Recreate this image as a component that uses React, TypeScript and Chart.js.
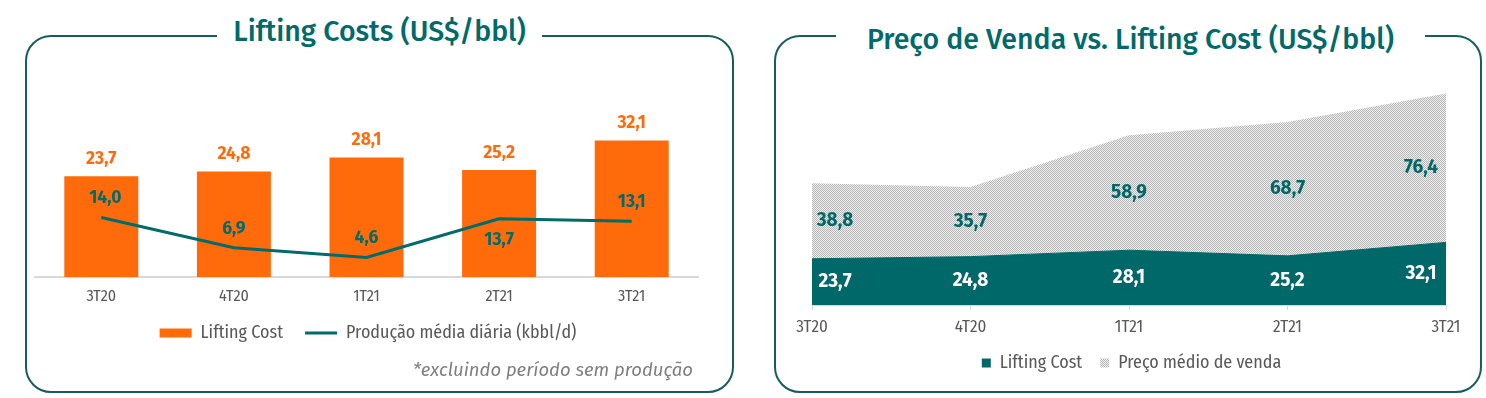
import React, { useEffect, useRef } from "react";
import { Chart, registerables } from "chart.js";

Chart.register(...registerables);

// ---- data ----
const categories = ["3T20", "4T20", "1T21", "2T21", "3T21"];
const liftingCost = [23.7, 24.8, 28.1, 25.2, 32.1];
const production = [14.0, 6.9, 4.6, 13.7, 13.1];
const salePrice = [38.8, 35.7, 58.9, 68.7, 76.4];

const leftTitle = "Lifting Costs (US$/bbl)";
const rightTitle = "Preço de Venda vs. Lifting Cost (US$/bbl)";
const liftLabel = "Lifting Cost";
const prodLabel = "Produção média diária (kbbl/d)";
const priceLabel = "Preço médio de venda";
const footnote = "*excluindo período sem produção";

// ---- style ----
const FONT = "'Fira Sans Condensed', 'Roboto Condensed', 'Liberation Sans', sans-serif";
const FONT_W = "'Fira Sans', 'Noto Sans', 'Liberation Sans', sans-serif";
const ORANGE = "#FF6B0B";
const TEAL = "#006868";
const TEAL_LINE = "#006B6B";
const TITLE = "#006A6B";
const BORDER = "#175D5D";
const GRAY_TXT = "#595959";
const AXIS = "#D9D9D9";

const fmt = (v: number) => v.toFixed(1).replace(".", ",");

const spacer = (position: string, width: number, extra: any = {}) => ({
  type: "linear",
  position,
  display: true,
  grid: { display: false, drawTicks: false },
  border: { display: false },
  ticks: { display: false },
  afterFit: (s: any) => {
    s.width = width;
  },
  ...extra,
});

function makePattern(ctx: CanvasRenderingContext2D) {
  const c = document.createElement("canvas");
  c.width = 2;
  c.height = 2;
  const p = c.getContext("2d")!;
  p.fillStyle = "#f0f0f0";
  p.fillRect(0, 0, 2, 2);
  p.fillStyle = "#b5b5b5";
  p.fillRect(0, 0, 1, 1);
  p.fillRect(1, 1, 1, 1);
  return ctx.createPattern(c, "repeat")!;
}

const leftLabelsPlugin = {
  id: "leftLabels",
  afterDatasetsDraw(chart: any) {
    const ctx = chart.ctx;
    const bars = chart.getDatasetMeta(0).data;
    const pts = chart.getDatasetMeta(1).data;
    const below = [false, false, false, true, false];
    ctx.save();
    ctx.textAlign = "center";
    ctx.textBaseline = "middle";
    ctx.font = `bold 17.5px ${FONT_W}`;
    ctx.fillStyle = ORANGE;
    bars.forEach((el: any, i: number) => ctx.fillText(fmt(liftingCost[i]), el.x, el.y - 17));
    ctx.fillStyle = TEAL_LINE;
    pts.forEach((el: any, i: number) =>
      ctx.fillText(fmt(production[i]), el.x + (i === 0 ? 4 : 0), el.y + (below[i] ? 21 : -19))
    );
    ctx.restore();
  },
};

const rightLabelsPlugin = {
  id: "rightLabels",
  afterDatasetsDraw(chart: any) {
    const ctx = chart.ctx;
    const lift = chart.getDatasetMeta(0).data;
    const price = chart.getDatasetMeta(1).data;
    const y0 = chart.scales.y.getPixelForValue(0);
    const n = categories.length;
    ctx.save();
    ctx.textAlign = "center";
    ctx.textBaseline = "middle";
    ctx.font = `bold 19px ${FONT_W}`;
    for (let i = 0; i < n; i++) {
      const dx = i === 0 ? 23 : i === n - 1 ? -25 : 0;
      const x = lift[i].x + dx;
      ctx.fillStyle = "#ffffff";
      ctx.fillText(fmt(liftingCost[i]), x, (y0 + lift[i].y) / 2);
      ctx.fillStyle = TEAL;
      ctx.fillText(fmt(salePrice[i]), x, (lift[i].y + price[i].y) / 2);
    }
    ctx.restore();
  },
};

export default function App() {
  const leftRef = useRef<HTMLCanvasElement>(null);
  const rightRef = useRef<HTMLCanvasElement>(null);

  useEffect(() => {
    const left = new Chart(leftRef.current!, {
      type: "bar",
      data: {
        labels: categories,
        datasets: [
          {
            type: "bar",
            label: liftLabel,
            data: liftingCost,
            backgroundColor: ORANGE,
            borderWidth: 0,
            barPercentage: 0.558,
            categoryPercentage: 1,
            order: 1,
          } as any,
          {
            type: "line",
            label: prodLabel,
            data: production,
            borderColor: TEAL_LINE,
            backgroundColor: TEAL_LINE,
            borderWidth: 3,
            pointRadius: 0,
            tension: 0,
            fill: false,
            order: 0,
          } as any,
        ],
      },
      options: {
        responsive: false,
        animation: false,
        devicePixelRatio: 1,
        events: [],
        layout: { padding: { top: 7, bottom: 8, left: 0, right: 0 } },
        scales: {
          x: {
            offset: true,
            grid: { display: false, drawTicks: false },
            border: { display: true, color: AXIS, width: 2 },
            ticks: { color: GRAY_TXT, font: { family: FONT, size: 16 }, padding: 10 },
            afterFit: (s: any) => {
              s.height = 25;
            },
          },
          y: spacer("left", 5, { min: 0, max: 40 }),
          yPad: spacer("right", 8),
        } as any,
        plugins: {
          tooltip: { enabled: false },
          legend: {
            position: "bottom",
            labels: {
              usePointStyle: true,
              pointStyleWidth: 32,
              boxHeight: 9,
              padding: 22,
              color: GRAY_TXT,
              font: { family: FONT, size: 18 },
              sort: (a: any, b: any) => a.datasetIndex - b.datasetIndex,
              generateLabels: (chart: any) => {
                const items = (Chart.defaults.plugins.legend.labels as any).generateLabels(chart);
                items.forEach((it: any) => {
                  if (it.datasetIndex === 0) {
                    it.pointStyle = "rect";
                    it.lineWidth = 0;
                  } else {
                    it.pointStyle = "line";
                    it.lineWidth = 3;
                    it.strokeStyle = TEAL_LINE;
                  }
                });
                return items;
              },
            },
          },
        },
      } as any,
      plugins: [leftLabelsPlugin],
    });

    const rctx = rightRef.current!.getContext("2d")!;
    const pattern = makePattern(rctx);
    const right = new Chart(rightRef.current!, {
      type: "line",
      data: {
        labels: categories,
        datasets: [
          {
            label: liftLabel,
            data: liftingCost,
            backgroundColor: TEAL,
            borderColor: TEAL,
            borderWidth: 1,
            pointRadius: 0,
            tension: 0,
            fill: "origin",
            stack: "s",
          } as any,
          {
            label: priceLabel,
            data: salePrice,
            backgroundColor: pattern,
            borderColor: "rgba(0,0,0,0)",
            borderWidth: 1,
            pointRadius: 0,
            tension: 0,
            fill: "-1",
            stack: "s",
          } as any,
        ],
      },
      options: {
        responsive: false,
        animation: false,
        devicePixelRatio: 1,
        events: [],
        layout: { padding: { top: 1, bottom: 8, left: 0, right: 0 } },
        scales: {
          x: {
            offset: false,
            grid: { display: true, drawOnChartArea: false, drawTicks: true, tickLength: 5, color: AXIS },
            border: { display: true, color: AXIS, width: 1 },
            ticks: { color: GRAY_TXT, font: { family: FONT, size: 17 }, padding: 7, maxRotation: 0 },
            afterFit: (s: any) => {
              s.height = 31;
            },
          },
          y: spacer("left", 28, { min: 0, max: 120, stacked: true }),
          yPad: spacer("right", 33),
        } as any,
        plugins: {
          tooltip: { enabled: false },
          legend: {
            position: "bottom",
            labels: {
              usePointStyle: true,
              pointStyleWidth: 9,
              boxHeight: 9,
              padding: 18,
              color: GRAY_TXT,
              font: { family: FONT, size: 18 },
              generateLabels: (chart: any) => {
                const items = (Chart.defaults.plugins.legend.labels as any).generateLabels(chart);
                items.forEach((it: any) => {
                  it.pointStyle = "rect";
                  it.lineWidth = 0;
                });
                return items;
              },
            },
          },
        },
      } as any,
      plugins: [rightLabelsPlugin],
    });

    return () => {
      left.destroy();
      right.destroy();
    };
  }, []);

  const panel = (left: number, width: number): React.CSSProperties => ({
    position: "absolute",
    left,
    top: 35,
    width,
    height: 358,
    border: `2px solid ${BORDER}`,
    borderRadius: 26,
    boxSizing: "border-box",
  });
  const title = (left: number, width: number, top: number): React.CSSProperties => ({
    position: "absolute",
    left,
    width,
    top,
    height: 36,
    lineHeight: "36px",
    textAlign: "center",
    background: "#fff",
    fontFamily: FONT_W,
    fontSize: 28.5,
    fontWeight: 500,
    color: TITLE,
    whiteSpace: "nowrap",
  });

  return (
    <div
      style={{
        position: "fixed",
        left: 0,
        top: 0,
        width: 1486,
        height: 398,
        background: "#fff",
        fontFamily: FONT,
        overflow: "hidden",
      }}
    >
      <div style={panel(25, 709)} />
      <div style={panel(774, 708)} />
      <canvas ref={leftRef} width={676} height={260} style={{ position: "absolute", left: 30, top: 100 }} />
      <canvas ref={rightRef} width={695} height={320} style={{ position: "absolute", left: 784, top: 70 }} />
      <div style={title(217, 325, 13.5)}>{leftTitle}</div>
      <div style={title(836, 589, 21.5)}>{rightTitle}</div>
      <div
        style={{
          position: "absolute",
          left: 0,
          width: 693,
          top: 360,
          lineHeight: "20px",
          textAlign: "right",
          fontFamily: FONT_W,
          fontSize: 18.5,
          fontStyle: "italic",
          color: "#7f7f7f",
          whiteSpace: "nowrap",
        }}
      >
        {footnote}
      </div>
    </div>
  );
}
